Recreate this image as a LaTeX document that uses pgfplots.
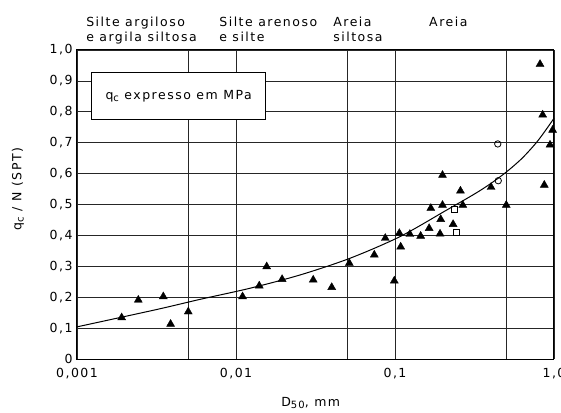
\documentclass[border=0pt]{standalone}
\usepackage{fontspec}
\setmainfont[LetterSpace=12]{DejaVu Sans}
\usepackage{pgfplots}
\pgfplotsset{compat=1.18}
\newcommand{\sub}[1]{\raisebox{-0.35ex}{\fontsize{10}{10}\selectfont #1}}

\begin{document}
\fontsize{12.5}{15}\selectfont
\begin{tikzpicture}
\useasboundingbox (-77pt,-53pt) rectangle (484pt,359pt);
\begin{axis}[
  scale only axis,
  width=477pt, height=309pt,
  xmode=log,
  xmin=0.001, xmax=1, ymin=0, ymax=1,
  xtick={0.001,0.01,0.1,1},
  xticklabels={{0,001},{0,01},{0,1},{1,0}},
  minor xtick={0.005,0.05,0.5},
  ytick={0,0.1,0.2,0.3,0.4,0.5,0.6,0.7,0.8,0.9,1},
  yticklabels={0,{0,1},{0,2},{0,3},{0,4},{0,5},{0,6},{0,7},{0,8},{0,9},{1,0}},
  xticklabel style={yshift=-5pt},
  xmajorgrids, xminorgrids, ymajorgrids,
  major tick length=0pt, minor tick length=0pt,
  axis line style={line width=1pt},
  grid style={line width=0.6pt, black!85},
  minor grid style={line width=0.6pt, black!85},
  clip=false,
  xlabel={D\sub{50}, mm},
  ylabel={q\sub{c} / N (SPT)},
  xlabel style={at={(axis description cs:0.49,0)}, anchor=center, yshift=-44pt},
  ylabel style={at={(axis description cs:-0.124,0.55)}, anchor=center},
]
% curva ajustada
\addplot[black, line width=1pt, smooth, tension=0.5] coordinates {
  (0.001,0.104) (0.00316,0.160) (0.00594,0.193) (0.01225,0.229)
  (0.0253,0.272) (0.0521,0.326) (0.1074,0.396) (0.2113,0.482)
  (0.3162,0.534) (0.398,0.567) (0.501,0.605) (0.631,0.650)
  (0.794,0.707) (1.0,0.779)
};
% triangulos
\addplot[only marks, mark=triangle*, mark size=4.6pt, black] coordinates {
  (0.00191,0.134) (0.00243,0.191) (0.00349,0.202) (0.00388,0.113)
  (0.00501,0.153) (0.0110,0.202) (0.0140,0.237) (0.0156,0.299)
  (0.0195,0.258) (0.0306,0.256) (0.040,0.232) (0.0516,0.310)
  (0.0741,0.337) (0.0869,0.391) (0.099,0.253) (0.1065,0.407)
  (0.1086,0.363) (0.124,0.404) (0.145,0.398) (0.164,0.423)
  (0.192,0.405) (0.168,0.488) (0.199,0.498) (0.199,0.595)
  (0.194,0.452) (0.232,0.436) (0.267,0.498) (0.258,0.544)
  (0.402,0.556) (0.501,0.498) (0.869,0.563) (0.944,0.693)
  (0.98,0.741) (0.817,0.954) (0.849,0.790)
};
% quadrados
\addplot[only marks, mark=square, mark size=3pt, black, mark options={line width=0.8pt, fill=white}] coordinates {
  (0.236,0.484) (0.242,0.409)
};
% circulos
\addplot[only marks, mark=o, mark size=3.2pt, black, mark options={line width=0.8pt, fill=white}] coordinates {
  (0.443,0.696) (0.446,0.577)
};
\node[draw, fill=white, line width=0.8pt, minimum width=174pt, minimum height=47pt]
  at (axis description cs:0.213,0.85) {q\sub{c} expresso em MPa};
\node[anchor=base west, inner sep=0] at (axis description cs:0.019,1) [yshift=23.5pt] {Silte argiloso};
\node[anchor=base west, inner sep=0] at (axis description cs:0.019,1) [yshift=8pt] {e argila siltosa};
\node[anchor=base west, inner sep=0] at (axis description cs:0.298,1) [yshift=23.5pt] {Silte arenoso};
\node[anchor=base west, inner sep=0] at (axis description cs:0.298,1) [yshift=8pt] {e silte};
\node[anchor=base west, inner sep=0] at (axis description cs:0.537,1) [yshift=23.5pt] {Areia};
\node[anchor=base west, inner sep=0] at (axis description cs:0.537,1) [yshift=8pt] {siltosa};
\node[anchor=base west, inner sep=0] at (axis description cs:0.738,1) [yshift=23.5pt] {Areia};
\end{axis}
\end{tikzpicture}
\end{document}
